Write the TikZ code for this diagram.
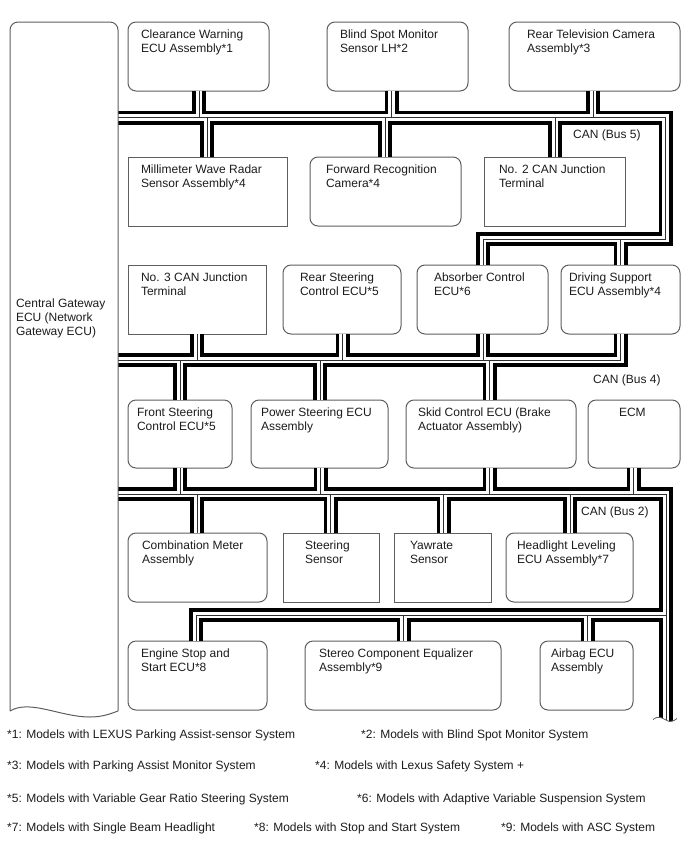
\documentclass[tikz,border=0pt]{standalone}
\usepackage{fontspec}
\setmainfont{Liberation Sans}
\definecolor{edge}{HTML}{5E5E5E}
\definecolor{ink}{HTML}{1C1C1C}
\definecolor{core}{HTML}{303030}
\tikzset{
  roundbox/.style={draw=edge,line width=1pt,inner sep=0pt,outer sep=0pt,rounded corners=8pt,text=ink},
  sharpbox/.style={draw=edge,line width=1pt,inner sep=0pt,outer sep=0pt,text=ink},
  plainbox/.style={inner sep=0pt,outer sep=0pt,text=ink},
  note/.style={inner sep=0pt,anchor=base west,text=ink},
}
% style, name, left, top, right, bottom, text indent, text
\newcommand{\ecubox}[8]{%
  \pgfmathsetmacro{\boxw}{#5-#3}%
  \pgfmathsetmacro{\boxh}{#6-#4}%
  \node[#1,anchor=north west] (#2) at (#3,#4)
    {\parbox[t][\boxh pt][t]{\boxw pt}{\raggedright\leftskip=#7pt\relax\vspace*{6pt}\rule{0pt}{10pt}#8\par}};%
}
\begin{document}
\begin{tikzpicture}[x=1pt,y=-1pt]
\useasboundingbox (0,0) rectangle (688,852);
\fontsize{12}{14.1}\selectfont

% Gateway module text; its outline follows the buses
\node[plainbox,anchor=north west] (gw) at (10,22)
  {\parbox[t][689pt][t]{108pt}{\raggedright\leftskip=6pt\relax\vspace*{277pt}Central Gateway\\ECU (Network\\Gateway ECU)\par}};

% First row
\ecubox{roundbox}{ecuA}{128}{22}{269}{91}{13}{Clearance Warning\\ECU Assembly*1}
\ecubox{roundbox}{ecuB}{327}{22}{468}{91}{13}{Blind Spot Monitor\\Sensor LH*2}
\ecubox{roundbox}{ecuC}{509}{22}{680}{91}{18}{Rear Television Camera\\Assembly*3}
% Second row
\ecubox{sharpbox}{ecuD}{128}{157}{287}{226}{13}{Millimeter Wave Radar\\Sensor Assembly*4}
\ecubox{roundbox}{ecuE}{310}{157}{461}{226}{16}{Forward Recognition\\Camera*4}
\ecubox{sharpbox}{ecuF}{484}{157}{625}{226}{15}{No. 2 CAN Junction\\Terminal}
% Third row
\ecubox{sharpbox}{ecuG}{128}{265}{266}{334}{13}{No. 3 CAN Junction\\Terminal}
\ecubox{roundbox}{ecuH}{283}{265}{401}{334}{17}{Rear Steering\\Control ECU*5}
\ecubox{roundbox}{ecuI}{417}{265}{548}{334}{17}{Absorber Control\\ECU*6}
\ecubox{roundbox}{ecuJ}{561}{265}{680}{334}{8}{Driving Support\\ECU Assembly*4}
% Fourth row
\ecubox{roundbox}{ecuK}{128}{400}{232}{468}{9}{Front Steering\\Control ECU*5}
\ecubox{roundbox}{ecuL}{251}{400}{388}{468}{10}{Power Steering ECU\\Assembly}
\ecubox{roundbox}{ecuM}{406}{400}{576}{468}{12}{Skid Control ECU (Brake\\Actuator Assembly)}
\ecubox{roundbox}{ecuN}{588}{400}{680}{468}{31}{ECM}
% Fifth row
\ecubox{roundbox}{ecuO}{128}{533}{267}{602}{14}{Combination Meter\\Assembly}
\ecubox{sharpbox}{ecuP}{283}{533}{379}{602}{22}{Steering\\Sensor}
\ecubox{sharpbox}{ecuQ}{394}{533}{491}{602}{16}{Yawrate\\Sensor}
\ecubox{roundbox}{ecuR}{506}{533}{633}{602}{11}{Headlight Leveling\\ECU Assembly*7}
% Sixth row
\ecubox{roundbox}{ecuS}{128}{641}{267}{710}{13}{Engine Stop and\\Start ECU*8}
\ecubox{roundbox}{ecuT}{305}{641}{501}{710}{14}{Stereo Component Equalizer\\Assembly*9}
\ecubox{roundbox}{ecuU}{540}{641}{633}{710}{11}{Airbag ECU\\Assembly}

% Bus corners and tap points
\coordinate (fA) at (665.5,117.5);  \coordinate (fB) at (665.5,239);   \coordinate (fC) at (483,239);
\coordinate (tA) at (199,117.5);    \coordinate (tD) at (207,117.5);   \coordinate (tE) at (385,117.5);
\coordinate (tB) at (391.5,117.5);  \coordinate (tF) at (555,117.5);   \coordinate (tC) at (593,117.5);
\coordinate (tJ) at (620.5,239);
\coordinate (dA) at (620.5,360);    \coordinate (tG) at (197,360);     \coordinate (tH) at (342.5,360);
\coordinate (tI) at (483,360);      \coordinate (tK) at (180,360);     \coordinate (tL) at (320,360);
\coordinate (tM) at (489.5,360);
\coordinate (sK) at (180,494);      \coordinate (sL) at (320.5,494);   \coordinate (sM) at (489.5,494);
\coordinate (sN) at (633.5,494);    \coordinate (sO) at (197,494);     \coordinate (sP) at (330.5,494);
\coordinate (sQ) at (443.5,494);    \coordinate (sR) at (570,494);     \coordinate (cA) at (666,494);
\coordinate (cB) at (666,615);      \coordinate (cC) at (196,615);     \coordinate (cT) at (403.5,615);
\coordinate (cU) at (587.5,615);    \coordinate (cE) at (666,722);

% Shielded twin-wire route, stroked once per layer so that the walls open at every tap
\def\buspaths{
  (gw.east |- fA) -- (fA) -- (fB) -- (fC) -- (ecuI.north -| fC)
  (ecuA.south -| tA) -- (tA)
  (ecuD.north -| tD) -- (tD)
  (ecuE.north -| tE) -- (tE)
  (ecuB.south -| tB) -- (tB)
  (ecuF.north -| tF) -- (tF)
  (ecuC.south -| tC) -- (tC)
  (ecuJ.north -| tJ) -- (tJ)
  (gw.east |- dA) -- (dA) -- (ecuJ.south -| dA)
  (ecuG.south -| tG) -- (tG)
  (ecuH.south -| tH) -- (tH)
  (ecuI.south -| tI) -- (tI)
  (ecuK.north -| tK) -- (tK)
  (ecuL.north -| tL) -- (tL)
  (ecuM.north -| tM) -- (tM)
  (gw.east |- cA) -- (cA) -- (cE)
  (ecuK.south -| sK) -- (sK)
  (ecuL.south -| sL) -- (sL)
  (ecuM.south -| sM) -- (sM)
  (ecuN.south -| sN) -- (sN)
  (ecuO.north -| sO) -- (sO)
  (ecuP.north -| sP) -- (sP)
  (ecuQ.north -| sQ) -- (sQ)
  (ecuR.north -| sR) -- (sR)
  (cB) -- (cC) -- (ecuS.north -| cC)
  (ecuT.north -| cT) -- (cT)
  (ecuU.north -| cU) -- (cU)
}
\foreach \w/\c in {14/black,6.4/white,1/core}{
  \draw[line width=\w pt,draw=\c] \buspaths;
}

% Gateway outline with its torn lower edge
\draw[draw=edge,line width=1pt,rounded corners=8pt]
  (gw.south west) -- (gw.north west) -- (gw.north east) -- (gw.south east);
\draw[draw=edge,line width=1pt]
  (gw.south west) .. controls (30,699) and (60,717) .. (90,717)
  .. controls (102,717) and (110,714) .. (gw.south east);

% Torn end of the bus
\fill[white] (653,719.5) .. controls (657,716) and (661,717) .. (666,720)
  .. controls (670,723) and (674,721) .. (677,718.5) -- (677,726) -- (653,726) -- cycle;
\draw[draw=edge,line width=.8pt] (653,719.5) .. controls (657,716) and (661,717) .. (666,720)
  .. controls (670,723) and (674,721) .. (677,718.5);

% Bus names
\node[note] (busA) at (573,138.3) {CAN (Bus 5)};
\node[note] (busB) at (593,383.3) {CAN (Bus 4)};
\node[note] (busC) at (581,515.3) {CAN (Bus 2)};

% Model notes
\node[note] (nA) at (7,738.5) {*1: Models with LEXUS Parking Assist-sensor System};
\node[note] (nB) at (361,738.5) {*2: Models with Blind Spot Monitor System};
\node[note] (nC) at (7,769.5) {*3: Models with Parking Assist Monitor System};
\node[note] (nD) at (315,769.5) {*4: Models with Lexus Safety System +};
\node[note] (nE) at (7,802.5) {*5: Models with Variable Gear Ratio Steering System};
\node[note] (nF) at (357,802.5) {*6: Models with Adaptive Variable Suspension System};
\node[note] (nG) at (7,831.5) {*7: Models with Single Beam Headlight};
\node[note] (nH) at (254,831.5) {*8: Models with Stop and Start System};
\node[note] (nI) at (501,831.5) {*9: Models with ASC System};
\end{tikzpicture}
\end{document}
